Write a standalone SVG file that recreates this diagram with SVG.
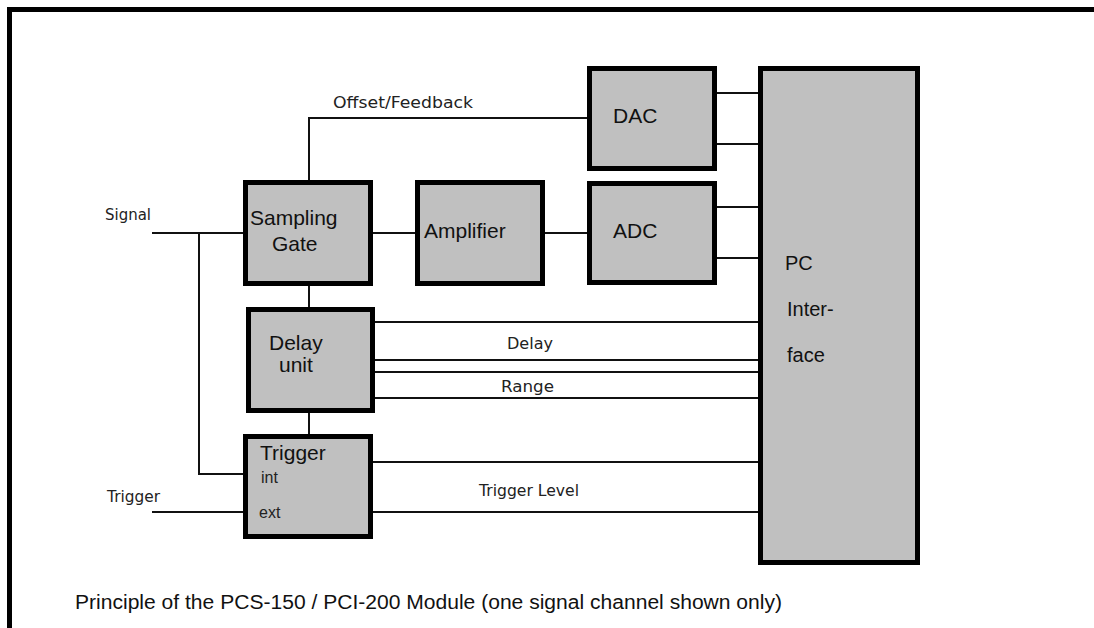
<svg xmlns="http://www.w3.org/2000/svg" width="1094" height="628" viewBox="0 0 1094 628">
<style>
.box{fill:#c0c0c0;stroke:#000;stroke-width:5}
.wire{fill:none;stroke:#111;stroke-width:2}
.frame{fill:none;stroke:#000;stroke-width:5}
.t{font-family:"Liberation Sans",Arial,sans-serif;font-size:21px;fill:#111}
.s{font-family:"DejaVu Sans",sans-serif;font-size:15px;fill:#222}
.p{font-family:"Liberation Sans",Arial,sans-serif;font-size:16px;fill:#222}
</style>
<rect width="1094" height="628" fill="#fff"/>
<path class="frame" d="M9.5,628 V9.5 H1094"/>
<g id="connectors">
<path class="wire" d="M309,180 V118 H587"/>
<path class="wire" d="M152,233 H243"/>
<path class="wire" d="M199,233 V474 H243"/>
<path class="wire" d="M152,512 H243"/>
<path class="wire" d="M309,286 V307"/>
<path class="wire" d="M309,413 V434"/>
<path class="wire" d="M373,233 H415"/>
<path class="wire" d="M545,233 H587"/>
<path class="wire" d="M717,93 H758 M717,144 H758"/>
<path class="wire" d="M717,207 H758 M717,258 H758"/>
<path class="wire" d="M375,322 H758 M375,360 H758 M375,372 H758 M375,398 H758"/>
<path class="wire" d="M373,462 H758 M373,512 H758"/>
<text class="s" x="333" y="108" textLength="140" lengthAdjust="spacingAndGlyphs">Offset/Feedback</text>
<text class="s" x="105" y="220" textLength="46" lengthAdjust="spacingAndGlyphs">Signal</text>
<text class="s" x="107" y="502" textLength="53" lengthAdjust="spacingAndGlyphs">Trigger</text>
<text class="s" x="507" y="349" textLength="46" lengthAdjust="spacingAndGlyphs">Delay</text>
<text class="s" x="501" y="392" textLength="53" lengthAdjust="spacingAndGlyphs">Range</text>
<text class="s" x="479" y="496" textLength="100" lengthAdjust="spacingAndGlyphs">Trigger Level</text>
</g>
<g id="sampling-gate">
<rect class="box" x="245.5" y="182.5" width="125" height="101"/>
<text class="t" x="250" y="225">Sampling</text>
<text class="t" x="272" y="251">Gate</text>
</g>
<g id="amplifier">
<rect class="box" x="417.5" y="182.5" width="125" height="101"/>
<text class="t" x="424" y="238">Amplifier</text>
</g>
<g id="dac">
<rect class="box" x="589.5" y="68.5" width="125" height="100"/>
<text class="t" x="613" y="123">DAC</text>
</g>
<g id="adc">
<rect class="box" x="589.5" y="183.5" width="125" height="99"/>
<text class="t" x="613" y="238">ADC</text>
</g>
<g id="delay-unit">
<rect class="box" x="248.5" y="309.5" width="124" height="101"/>
<text class="t" x="269" y="350">Delay</text>
<text class="t" x="279" y="372">unit</text>
</g>
<g id="trigger">
<rect class="box" x="245.5" y="436.5" width="125" height="100"/>
<text class="t" x="260" y="460">Trigger</text>
<text class="p" x="261" y="483">int</text>
<text class="p" x="259" y="518">ext</text>
</g>
<g id="pc-interface">
<rect class="box" x="760.5" y="68.5" width="157" height="494"/>
<text class="t" x="785" y="270" style="font-size:20px">PC</text>
<text class="t" x="787" y="316" style="font-size:20px">Inter-</text>
<text class="t" x="787" y="362" style="font-size:20px">face</text>
</g>
<text class="t" x="75" y="609" style="font-size:20px" textLength="707" lengthAdjust="spacingAndGlyphs">Principle of the PCS-150 / PCI-200 Module (one signal channel shown only)</text>
</svg>
